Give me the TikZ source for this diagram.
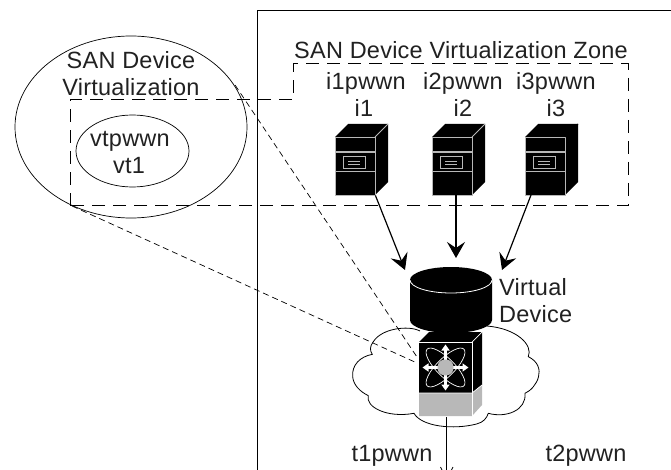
\documentclass[tikz,border=0pt]{standalone}
\usepackage{fontspec}
\setmainfont[LetterSpace=1.0]{Liberation Sans}
\usepackage{tikz}
\usetikzlibrary{shapes.geometric, arrows.meta, positioning}
\definecolor{swgray}{gray}{0.72}
\definecolor{txtgray}{gray}{0.13}
\tikzstyle{lbl} = [anchor=base, inner sep=0pt, text=txtgray, font=\fontsize{23.5pt}{28pt}\selectfont]
\tikzstyle{lline} = [lbl, anchor=base west]
\tikzstyle{oval} = [ellipse, draw, line width=0.7pt, inner sep=0pt]
\tikzstyle{line} = [draw, line width=1pt]
\tikzstyle{zone} = [draw, line width=1pt, dash pattern=on 13pt off 8pt]
\tikzstyle{zoomline} = [draw, line width=0.7pt, dash pattern=on 6pt off 4pt]
\tikzstyle{feed} = [draw, line width=1.2pt, -{Stealth[length=16pt, width=18pt, inset=6pt]}]
\tikzstyle{srvfront} = [rectangle, fill=black, draw=swgray, line width=0.8pt, minimum width=40pt, minimum height=58pt, inner sep=0pt]
\tikzstyle{swarrow} = [draw=white, line width=2.2pt, -{Triangle[length=6pt, width=8pt]}]
\newcommand{\serverunit}[3]{
	\begin{scope}[shift={(#2,137)}]
		\fill (0,0) -- (13,-13) -- (53,-13) -- (53,45) -- (40,58) -- (0,58) -- cycle;
		\node [srvfront] (#1) at (20,29) {};
		\draw [#3, line width=0.8pt] (40,0) -- (53,-13);
		\draw [swgray, line width=1.6pt] (0,15.3) -- (40,15.3);
		\draw [swgray, line width=0.8pt] (0,34.7) -- (40,34.7);
		\draw [swgray, line width=0.8pt] (8.3,19.7) rectangle (30,31);
		\draw [swgray, line width=0.8pt] (13,24) -- (25,24);
		\draw [swgray, line width=0.8pt] (13,27) -- (25,27);
	\end{scope}
}
\begin{document}
\begin{tikzpicture}[x=1pt, y=-1pt]
	\useasboundingbox (0,0) rectangle (671,470);

	\coordinate (frameTL) at (257,11);
	\coordinate (frameTR) at (671,11);
	\coordinate (frameBL) at (257,470);
	\path [line] (frameTR) -- (frameTL) -- (frameBL);

	\node [oval, minimum width=232pt, minimum height=182pt] (virt) at (131,127) {};
	\node [oval, minimum width=113pt, minimum height=72pt] (vt) at (132.5,151) {};

	\path [zone] (70,206) -- (70,100) -- (293,100) -- (293,64) -- (628,64) -- (628,206) -- cycle;

	\node [lbl] (virt1) at (131,68.5) {SAN Device};
	\node [lbl] (virt2) at (131,96) {Virtualization};
	\node [lbl] (vtp) at (130,147) {vtpwwn};
	\node [lbl] (vtn) at (129,174) {vt1};
	\node [lbl] (zonelbl) at (461,59) {SAN Device Virtualization Zone};
	\node [lbl] (i1p) at (366,90) {i1pwwn};
	\node [lbl] (i2p) at (463,90) {i2pwwn};
	\node [lbl] (i3p) at (556,90) {i3pwwn};
	\node [lbl] (i1n) at (364,117) {i1};
	\node [lbl] (i2n) at (463,117) {i2};
	\node [lbl] (i3n) at (556,117) {i3};
	\node [lline] (vd1) at (499,295) {Virtual};
	\node [lline] (vd2) at (499,322) {Device};
	\node [lbl] (t1) at (392,461) {t1pwwn};
	\node [lbl] (t2) at (586,461) {t2pwwn};

	\serverunit{i1}{335}{swgray}
	\serverunit{i2}{432}{swgray}
	\serverunit{i3}{525}{black}

	\begin{scope}[shift={(340,250)}, x=0.3333pt, y=-0.3333pt]
		\draw [line width=0.8pt] (240,243)
			.. controls (205,225) and (125,235) .. (100,275)
			.. controls (88,290) and (90,303) .. (97,313)
			.. controls (60,320) and (35,345) .. (38,380)
			.. controls (40,405) and (60,425) .. (85,437)
			.. controls (75,470) and (140,505) .. (222,490)
			.. controls (245,530) and (340,540) .. (410,522)
			.. controls (430,517) and (440,505) .. (445,490)
			.. controls (500,505) and (560,480) .. (555,430)
			.. controls (590,415) and (625,350) .. (565,320)
			.. controls (580,285) and (530,235) .. (440,228);
	\end{scope}

	\fill (410,280) -- (410,320) arc [start angle=180, end angle=360, x radius=41pt, y radius=13pt] -- (492,280) arc [start angle=0, end angle=180, x radius=41pt, y radius=13pt] -- cycle;
	\draw [white, line width=0.8pt] (410,280) arc [start angle=180, end angle=360, x radius=41pt, y radius=13pt];
	\coordinate (vdL) at (405,270);
	\coordinate (vdM) at (456,258);
	\coordinate (vdR) at (502,270);
	\coordinate (i2out) at (456,195);
	\coordinate (i3out) at (531,195);

	\path [feed] (i1.south east) -- (vdL);
	\path [feed] (i2out) -- (vdM);
	\path [feed] (i3out) -- (vdR);

	\fill (419,342) -- (429,332) -- (482,332) -- (482,385) -- (472,393) -- (419,393) -- cycle;
	\fill [swgray] (419,393) -- (472,393) -- (482,385) -- (482,405) -- (472,416) -- (419,416) -- cycle;
	\draw [white, line width=0.7pt] (419,393) -- (472,393) -- (482,385);
	\draw [white, line width=0.7pt] (472,393) -- (472,416);
	\draw [white, line width=0.7pt] (419,342) -- (472,342) -- (472,393);
	\draw [white, line width=0.7pt] (472,342) -- (482,332);
	\node [circle, fill=swgray, minimum size=16pt, inner sep=0pt] (hub) at (445.5,367.5) {};
	\draw [white, line width=0.7pt] (hub.center) ellipse [x radius=26pt, y radius=9pt, rotate=45];
	\draw [white, line width=0.7pt] (hub.center) ellipse [x radius=26pt, y radius=9pt, rotate=-45];
	\foreach \ang in {0,90,180,270}
		\path [swarrow] (hub.center) -- ++(\ang:23pt);
	\node [circle, fill=swgray, minimum size=16pt, inner sep=0pt] at (hub) {};

	\coordinate (z1) at (235,85);
	\coordinate (z2) at (72,206);
	\coordinate (s1) at (417,357);
	\coordinate (s2) at (417,363);
	\path [zoomline] (z1) -- (s1);
	\path [zoomline] (z2) -- (s2);

	\coordinate (swout) at (446,417);
	\coordinate (swend) at (446,470);
	\path [line] (swout) -- (swend);
	\coordinate (tk1a) at (440.5,467);
	\coordinate (tk1b) at (442,470);
	\coordinate (tk2a) at (453,467);
	\coordinate (tk2b) at (451.5,470);
	\path [draw, line width=0.7pt] (tk1a) -- (tk1b);
	\path [draw, line width=0.7pt] (tk2a) -- (tk2b);
\end{tikzpicture}
\end{document}
